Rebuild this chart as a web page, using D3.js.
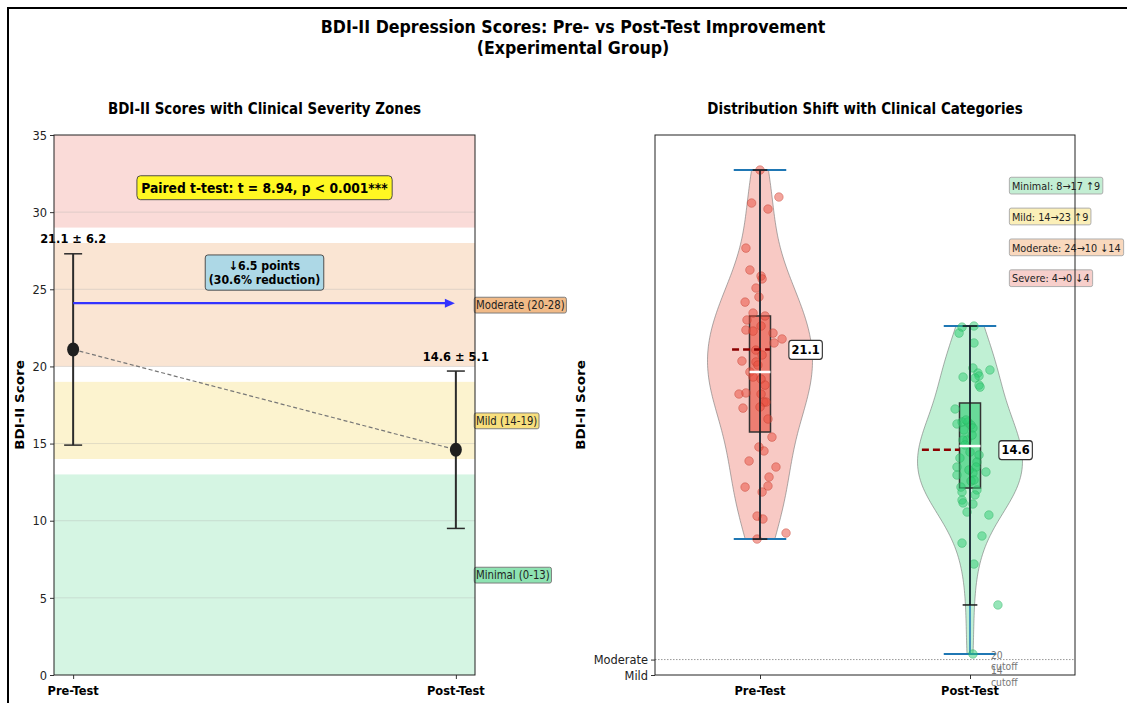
<!DOCTYPE html>
<html>
<head>
<meta charset="utf-8">
<script src="https://cdn.jsdelivr.net/npm/d3@7"></script>
<style>
  body { margin: 0; background: #fff; }
  svg { display: block; }
  text { font-family: "DejaVu Sans", "Liberation Sans", sans-serif; }
</style>
</head>
<body>
<svg id="chart" width="1127" height="703"></svg>
<script>
// ---- data ----
const groups = ["Pre-Test", "Post-Test"];
const means = [21.1, 14.6];
const sds = [6.2, 5.1];
const tStat = 8.94;
const reductionPoints = 6.5;
const reductionPct = 30.6;

const zoneNames = ["Minimal", "Mild", "Moderate", "Severe"];
const zoneLow = [0, 14, 20, 29];
const zoneHigh = [13, 19, 28, 63];

const countsPre = [8, 14, 24, 4];
const countsPost = [17, 23, 10, 0];

const yTicksLeft = [0, 5, 10, 15, 20, 25, 30, 35];
const cutoffTickLabels = ["Moderate", "Mild"];
const cutoffTickValues = [1, 0];
const cutoffNotes = ["20\ncutoff", "14\ncutoff"];

// individual scores and their horizontal jitter
const preScores = [32.73, 30.98, 30.59, 30.20, 27.67, 26.25, 25.86, 25.67, 25.08, 24.50,
  24.17, 23.46, 23.27, 23.01, 22.36, 22.29, 22.62, 22.16, 21.78, 21.52,
  20.35, 20.29, 19.64, 19.31, 19.18, 18.21, 18.28, 18.21, 17.69, 17.69,
  17.30, 17.37, 16.59, 15.42, 14.78, 14.52, 13.87, 13.48, 12.83, 12.18,
  12.25, 11.86, 10.30, 10.11, 9.20, 8.81, 21.06, 18.79, 20.74, 20.09];
const preJitter = [0.000, 0.090, -0.040, 0.038, -0.067, -0.048, 0.005, 0.010, -0.019, -0.005,
  -0.071, -0.033, 0.024, -0.062, -0.067, -0.033, 0.005, 0.062, 0.105, 0.067,
  -0.086, -0.019, -0.048, -0.033, 0.005, -0.100, -0.067, 0.005, 0.019, 0.029,
  -0.081, 0.000, 0.038, 0.057, -0.005, 0.019, -0.052, 0.076, 0.043, -0.071,
  0.038, 0.010, -0.014, 0.014, 0.124, -0.014, -0.020, 0.024, 0.010, -0.010];
const postScores = [22.55, 22.16, 22.62, 21.52, 19.31, 19.90, 19.57, 19.38, 19.77, 19.25,
  18.79, 18.66, 17.24, 16.40, 16.27, 16.40, 16.20, 16.01, 15.23, 15.23,
  14.91, 14.45, 14.26, 13.80, 13.48, 13.48, 12.96, 13.09, 13.16, 12.57,
  12.64, 11.86, 11.99, 12.18, 11.34, 11.15, 11.08, 10.56, 10.37, 9.01,
  8.55, 7.19, 4.54, 1.36, 16.53, 15.55, 14.06, 11.67, 13.29, 15.88];
const postJitter = [-0.038, -0.052, 0.019, 0.019, -0.033, 0.014, 0.038, 0.043, 0.095, 0.024,
  0.043, 0.048, -0.071, -0.038, -0.062, -0.010, 0.005, 0.014, -0.014, -0.033,
  -0.024, 0.000, 0.043, 0.033, -0.062, 0.029, -0.062, 0.014, 0.076, 0.005,
  0.019, -0.038, 0.033, -0.043, -0.038, -0.033, 0.014, -0.014, 0.090, 0.057,
  -0.038, 0.019, 0.133, 0.014, -0.019, 0.010, -0.048, 0.024, -0.005, -0.029];

// box-plot summary
const boxQ1 = [15.75, 12.12];
const boxMedian = [19.64, 14.84];
const boxQ3 = [23.27, 17.63];
const whiskerLow = [8.81, 4.54];
const whiskerHigh = [32.73, 22.62];

// ---- styling ----
const SX = 0.88; // horizontal text compression
const zoneColors = ["#2ecc71", "#f1c40f", "#e67e22", "#e74c3c"];
const tagColors = ["#82e0aa", "#f7dc6f", "#f0b27a", "#f5b7b1"];
const catBg = ["#c3eed3", "#fbefb8", "#f9d8bd", "#f7cfcb"];
const groupFill = ["#e74c3c", "#2ecc71"];

const svg = d3.select("#chart");

function txt(parent, x, y, str, o = {}) {
  const size = o.size || 12;
  const g = parent.append("g")
    .attr("transform", `translate(${x},${y}) ${o.rotate ? "scale(" + SX + ",1) rotate(-90)" : "scale(" + SX + ",1)"}`);
  const t = g.append("text")
    .attr("text-anchor", o.anchor || "middle")
    .style("font-size", size + "px")
    .style("font-weight", o.weight || "normal")
    .attr("fill", o.fill || "#000");
  const lines = str.split("\n");
  const lh = size * (o.lh || 1.2);
  const top = -(lines.length - 1) * lh / 2;
  lines.forEach((l, i) => t.append("tspan").attr("x", 0)
    .attr("y", top + i * lh).attr("dy", "0.36em").text(l));
  if (o.box) {
    const bb = t.node().getBBox();
    const p = o.pad || 3;
    g.insert("rect", "text")
      .attr("x", bb.x - p).attr("y", bb.y - p + 1)
      .attr("width", bb.width + 2 * p).attr("height", bb.height + 2 * p - 2)
      .attr("rx", o.rx == null ? 3 : o.rx)
      .attr("fill", o.box).attr("fill-opacity", o.boxOpacity == null ? 1 : o.boxOpacity)
      .attr("stroke", o.stroke || "#555").attr("stroke-opacity", o.strokeOpacity == null ? 1 : o.strokeOpacity)
      .attr("stroke-width", o.sw || 1);
  }
  return g;
}

// ---- figure frame and titles ----
svg.append("rect").attr("x", 8).attr("y", 8).attr("width", 1140).attr("height", 720)
  .attr("fill", "none").attr("stroke", "#000").attr("stroke-width", 2);

txt(svg, 573, 27, "BDI-II Depression Scores: Pre- vs Post-Test Improvement", { size: 18, weight: "bold" });
txt(svg, 573, 48, "(Experimental Group)", { size: 18, weight: "bold" });

// ---- left panel ----
const L = { x0: 54, x1: 475, y0: 135, y1: 675 };
const xL = d3.scaleLinear().domain([-0.05, 1.05]).range([L.x0, L.x1]);
const yS = d3.scaleLinear().domain([0, 35]).range([L.y1, L.y0]);

const left = svg.append("g");
left.append("defs").append("clipPath").attr("id", "clipL")
  .append("rect").attr("x", L.x0).attr("y", L.y0).attr("width", L.x1 - L.x0).attr("height", L.y1 - L.y0);

const zoneG = left.append("g").attr("clip-path", "url(#clipL)");
zoneNames.forEach((n, i) => {
  zoneG.append("rect")
    .attr("x", L.x0).attr("width", L.x1 - L.x0)
    .attr("y", yS(zoneHigh[i])).attr("height", yS(zoneLow[i]) - yS(zoneHigh[i]))
    .attr("fill", zoneColors[i]).attr("fill-opacity", 0.2);
});
// grid
zoneG.selectAll("line.grid").data(yTicksLeft.slice(1, -1)).join("line")
  .attr("x1", L.x0).attr("x2", L.x1).attr("y1", d => yS(d)).attr("y2", d => yS(d))
  .attr("stroke", "#b0b0b0").attr("stroke-opacity", 0.35).attr("stroke-width", 1);

// axes
const axL = left.append("g").attr("transform", `translate(${L.x0},0)`)
  .call(d3.axisLeft(yS).tickValues(yTicksLeft).tickSize(4).tickFormat(""));
axL.select(".domain").remove();
axL.selectAll("line").attr("stroke", "#333");
yTicksLeft.forEach(v => txt(left, L.x0 - 7, yS(v), String(v), { size: 13, anchor: "end", fill: "#222" }));
const axLB = left.append("g").attr("transform", `translate(0,${L.y1})`)
  .call(d3.axisBottom(xL).tickValues([0, 1]).tickSize(4).tickFormat(""));
axLB.select(".domain").remove();
axLB.selectAll("line").attr("stroke", "#333");
groups.forEach((g, i) => txt(left, xL(i), 690, g, { size: 13, weight: "bold" }));
txt(left, 20, 405, "BDI-II Score", { size: 13.5, weight: "bold", rotate: true });

// connecting dashed line between means
left.append("line")
  .attr("x1", xL(0)).attr("y1", yS(means[0])).attr("x2", xL(1)).attr("y2", yS(means[1]))
  .attr("stroke", "#777").attr("stroke-width", 1.2).attr("stroke-dasharray", "4,2.5");

// error bars and mean markers
groups.forEach((g, i) => {
  const cx = xL(i);
  const lo = means[i] - sds[i], hi = means[i] + sds[i];
  left.append("line").attr("x1", cx).attr("x2", cx).attr("y1", yS(lo)).attr("y2", yS(hi))
    .attr("stroke", "#2b2b2b").attr("stroke-width", 2);
  [lo, hi].forEach(v => left.append("line").attr("x1", cx - 9).attr("x2", cx + 9)
    .attr("y1", yS(v)).attr("y2", yS(v)).attr("stroke", "#2b2b2b").attr("stroke-width", 1.5));
  left.append("ellipse").attr("cx", cx).attr("cy", yS(means[i])).attr("rx", 6).attr("ry", 7)
    .attr("fill", "#1f1f1f");
  txt(left, cx, yS(hi) - 15, `${means[i].toFixed(1)} ± ${sds[i].toFixed(1)}`, { size: 13, weight: "bold" });
});

// improvement arrow
const arrowY = yS(means[0] + 3);
left.append("line").attr("x1", xL(0)).attr("x2", xL(1) - 8).attr("y1", arrowY).attr("y2", arrowY)
  .attr("stroke", "#3333ff").attr("stroke-width", 2.2);
left.append("path")
  .attr("d", `M${xL(1) - 1},${arrowY} L${xL(1) - 11},${arrowY - 4.5} L${xL(1) - 11},${arrowY + 4.5} Z`)
  .attr("fill", "#3333ff");

txt(left, xL(0.5), yS(means[0] + 5), `↓${reductionPoints} points\n(${reductionPct}% reduction)`,
  { size: 12.5, weight: "bold", box: "#add8e6", stroke: "#444", pad: 4, lh: 1.15 });

txt(left, xL(0.5), yS(31.6), `Paired t-test: t = ${tStat.toFixed(2)}, p < 0.001***`,
  { size: 14, weight: "bold", box: "#fff722", stroke: "#444", pad: 5, rx: 4 });

// zone tags outside right spine
zoneNames.forEach((n, i) => {
  const mid = (zoneLow[i] + zoneHigh[i]) / 2;
  if (mid > 35) return;
  txt(left, L.x1 + 1, yS(mid), `${n} (${zoneLow[i]}-${zoneHigh[i]})`,
    { size: 11.5, anchor: "start", box: tagColors[i], boxOpacity: 0.9, stroke: "#777", pad: 2, rx: 2, fill: "#222" });
});

// spines
left.append("rect").attr("x", L.x0).attr("y", L.y0).attr("width", L.x1 - L.x0).attr("height", L.y1 - L.y0)
  .attr("fill", "none").attr("stroke", "#222").attr("stroke-width", 1);

txt(svg, (L.x0 + L.x1) / 2, 108, "BDI-II Scores with Clinical Severity Zones", { size: 15.3, weight: "bold" });

// ---- right panel ----
const R = { x0: 655, x1: 1075, y0: 135, y1: 675 };
const xR = d3.scaleLinear().domain([0.5, 2.5]).range([R.x0, R.x1]);
const right = svg.append("g");

const scores = [preScores, postScores];
const jitters = [preJitter, postJitter];

// gaussian kernel density with Scott's bandwidth
function kde(data, lo, hi, n) {
  const sd = d3.deviation(data);
  const bw = sd * Math.pow(data.length, -1 / 5);
  const pts = d3.range(n).map(k => lo + (hi - lo) * k / (n - 1));
  return pts.map(v => [v, d3.mean(data, d => Math.exp(-0.5 * ((v - d) / bw) ** 2))]);
}

scores.forEach((data, i) => {
  const pos = i + 1;
  const lo = d3.min(data), hi = d3.max(data);
  const dens = kde(data, lo, hi, 120);
  const maxD = d3.max(dens, d => d[1]);
  const w = d3.scaleLinear().domain([0, maxD]).range([0, 0.25]);
  const area = d3.area()
    .y(d => yS(d[0]))
    .x0(d => xR(pos - w(d[1])))
    .x1(d => xR(pos + w(d[1])))
    .curve(d3.curveBasis);
  right.append("path").datum(dens).attr("d", area)
    .attr("fill", groupFill[i]).attr("fill-opacity", 0.3)
    .attr("stroke", "#777").attr("stroke-opacity", 0.6).attr("stroke-width", 1);
  // extrema bars and centre line
  right.append("line").attr("x1", xR(pos)).attr("x2", xR(pos)).attr("y1", yS(lo)).attr("y2", yS(hi))
    .attr("stroke", "#1f77b4").attr("stroke-width", 1.5);
  [lo, hi].forEach(v => right.append("line")
    .attr("x1", xR(pos - 0.125)).attr("x2", xR(pos + 0.125)).attr("y1", yS(v)).attr("y2", yS(v))
    .attr("stroke", "#1f77b4").attr("stroke-width", 2));
});

scores.forEach((data, i) => {
  const pos = i + 1;
  // box
  right.append("rect")
    .attr("x", xR(pos - 0.05)).attr("width", xR(pos + 0.05) - xR(pos - 0.05))
    .attr("y", yS(boxQ3[i])).attr("height", yS(boxQ1[i]) - yS(boxQ3[i]))
    .attr("fill", groupFill[i]).attr("fill-opacity", 0.6)
    .attr("stroke", "#333").attr("stroke-width", 1.5);
  // jittered points
  right.append("g").selectAll("circle").data(data).join("circle")
    .attr("cx", (d, k) => xR(pos + jitters[i][k]))
    .attr("cy", d => yS(d))
    .attr("r", 4.3)
    .attr("fill", groupFill[i]).attr("fill-opacity", 0.5)
    .attr("stroke", i === 0 ? "#c0392b" : "#27ae60").attr("stroke-opacity", 0.5).attr("stroke-width", 0.8);
  // whiskers
  right.append("line").attr("x1", xR(pos)).attr("x2", xR(pos))
    .attr("y1", yS(whiskerLow[i])).attr("y2", yS(whiskerHigh[i]))
    .attr("stroke", "#1a1a1a").attr("stroke-width", 1.5);
  [whiskerLow[i], whiskerHigh[i]].forEach(v => right.append("line")
    .attr("x1", xR(pos - 0.035)).attr("x2", xR(pos + 0.035)).attr("y1", yS(v)).attr("y2", yS(v))
    .attr("stroke", "#1a1a1a").attr("stroke-width", 1.5));
  // mean marker
  const mStart = i === 0 ? -0.133 : -0.229;
  right.append("line")
    .attr("x1", xR(pos + mStart)).attr("x2", xR(pos + mStart + 0.18))
    .attr("y1", yS(means[i])).attr("y2", yS(means[i]))
    .attr("stroke", "#8b0000").attr("stroke-width", 2.5).attr("stroke-dasharray", "7,4");
  // median
  right.append("line")
    .attr("x1", xR(pos - 0.05)).attr("x2", xR(pos + 0.05))
    .attr("y1", yS(boxMedian[i])).attr("y2", yS(boxMedian[i]))
    .attr("stroke", "#fff").attr("stroke-width", 2.5);
  txt(right, xR(pos + 0.15), yS(means[i]), means[i].toFixed(1),
    { size: 13, weight: "bold", anchor: "start", box: "#fff", stroke: "#333", pad: 3, rx: 3, sw: 1.3 });
});

// cutoff reference line and notes
right.append("line").attr("x1", R.x0).attr("x2", R.x1)
  .attr("y1", yS(cutoffTickValues[0])).attr("y2", yS(cutoffTickValues[0]))
  .attr("stroke", "#999").attr("stroke-width", 1).attr("stroke-dasharray", "1.5,1.5");
cutoffNotes.forEach((n, i) => {
  txt(right, xR(2.1), yS(cutoffTickValues[i]) + 1, n, { size: 10.5, anchor: "start", fill: "#777", lh: 1.1 });
});

// category change summary
zoneNames.forEach((n, i) => {
  const diff = countsPost[i] - countsPre[i];
  const arrow = diff >= 0 ? "↑" : "↓";
  txt(right, xR(2.2), yS(31.7 - 2 * i), `${n}: ${countsPre[i]}→${countsPost[i]} ${arrow}${Math.abs(diff)}`,
    { size: 11, anchor: "start", box: catBg[i], stroke: "#aaa", pad: 3, rx: 2, fill: "#222" });
});

// axes
const axR = right.append("g").attr("transform", `translate(${R.x0},0)`)
  .call(d3.axisLeft(yS).tickValues(cutoffTickValues).tickSize(4).tickFormat(""));
axR.select(".domain").remove();
axR.selectAll("line").attr("stroke", "#333");
cutoffTickLabels.forEach((l, i) => txt(right, R.x0 - 7, yS(cutoffTickValues[i]), l, { size: 13, anchor: "end", fill: "#222" }));
const axRB = right.append("g").attr("transform", `translate(0,${R.y1})`)
  .call(d3.axisBottom(xR).tickValues([1, 2]).tickSize(4).tickFormat(""));
axRB.select(".domain").remove();
axRB.selectAll("line").attr("stroke", "#333");
groups.forEach((g, i) => txt(right, xR(i + 1), 690, g, { size: 13, weight: "bold" }));
txt(right, 581, 405, "BDI-II Score", { size: 13.5, weight: "bold", rotate: true });

right.append("rect").attr("x", R.x0).attr("y", R.y0).attr("width", R.x1 - R.x0).attr("height", R.y1 - R.y0)
  .attr("fill", "none").attr("stroke", "#222").attr("stroke-width", 1);

txt(svg, (R.x0 + R.x1) / 2, 108, "Distribution Shift with Clinical Categories", { size: 15.3, weight: "bold" });
</script>
</body>
</html>
